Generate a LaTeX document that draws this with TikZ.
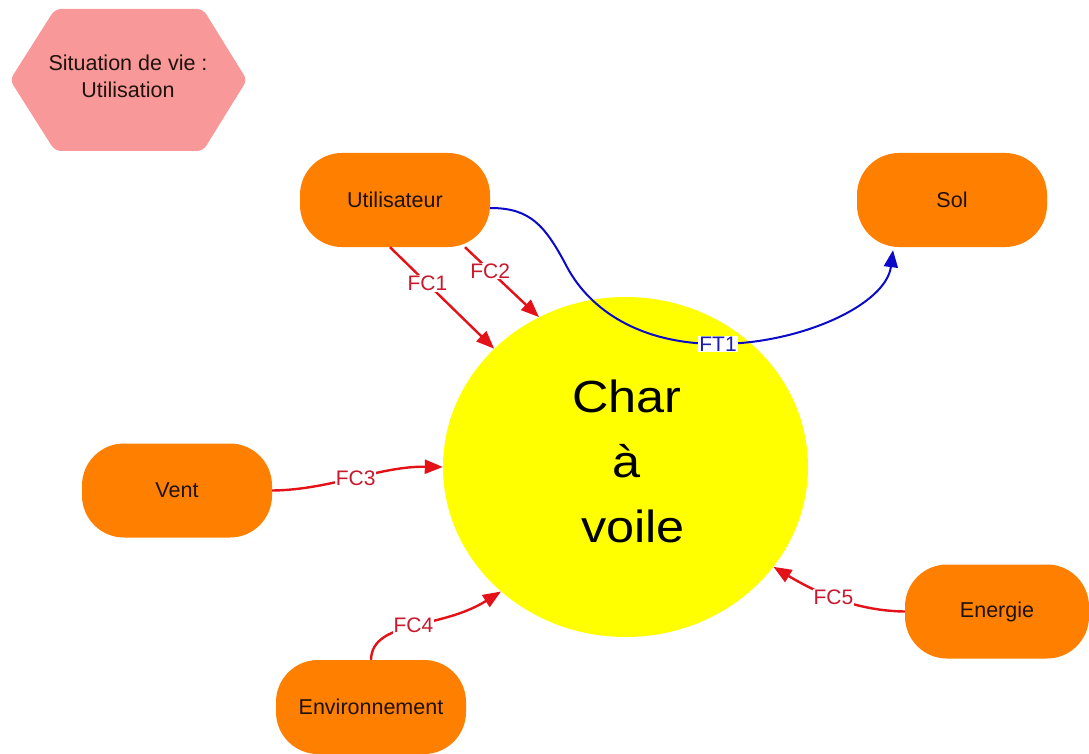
\documentclass[tikz,border=0pt]{standalone}
\usepackage{fontspec}
\setmainfont{Liberation Sans}
\newfontfamily\bigfont[FakeStretch=1.12]{Liberation Sans}
\usetikzlibrary{arrows.meta,shapes.geometric,calc}
\definecolor{orangeN}{RGB}{255,128,0}
\definecolor{pinkH}{RGB}{249,152,152}
\definecolor{yellowC}{RGB}{255,255,0}
\definecolor{redA}{RGB}{228,18,24}
\definecolor{redT}{RGB}{200,25,45}
\definecolor{blueA}{RGB}{10,10,200}
\definecolor{blueT}{RGB}{30,30,170}
\definecolor{txt}{RGB}{30,18,12}
\begin{document}
\begin{tikzpicture}[x=1pt,y=-1pt,
  actor/.style={rectangle, rounded corners=42pt, fill=orangeN, minimum width=190pt,
    minimum height=94pt, inner sep=0pt, text=txt, font=\fontsize{21.5}{25}\selectfont},
  fc/.style={draw=redA, line width=2.4pt, -{Triangle[length=18pt,width=14pt]}},
  ft/.style={draw=blueA, line width=2pt, -{Triangle[length=17pt,width=14pt]}},
  fclab/.style={fill=white, text=redT, inner sep=1pt, font=\fontsize{21}{24}\selectfont},
  ftlab/.style={fill=white, text=blueT, inner sep=1pt, font=\fontsize{21}{24}\selectfont}
]
\useasboundingbox (0,0) rectangle (1089,754);
\fill[white] (0,0) rectangle (1089,754);

% situation hexagon
\fill[pinkH, rounded corners=6pt] (10,80) -- (55,9) -- (203,9) -- (247,80) -- (203,151) -- (55,151) -- cycle;
\node[align=center, text=txt, font=\fontsize{21.5}{27}\selectfont] (hex) at (128,76) {Situation de vie :\\Utilisation};

% central ellipse
\node[ellipse, fill=yellowC, minimum width=365pt, minimum height=340pt, inner sep=0pt] (c) at (625.5,467) {};
\node[align=center, text=black, font=\bigfont\fontsize{45}{65}\selectfont] (ct) at (627,461) {Char\\à\\\hspace*{12pt}voile};

% actors
\node[actor] (u) at (395,200) {Utilisateur};
\node[actor] (s) at (952,200) {Sol};
\node[actor] (v) at (177,490.5) {Vent};
\node[actor] (e) at (371,707) {Environnement};
\node[actor, minimum width=184pt] (en) at (997,611.5) {Energie};

% connectors
\draw[fc] ($(u.south)+(-5,0)$) -- node[fclab, pos=0.36] {FC1} (c.138);
\draw[fc] ($(u.south)+(70,0)$) -- node[fclab, pos=0.34] {FC2} (c.120);

\coordinate (ftend) at ($(s.south)+(-59,3)$);
\draw[ft] ($(u.east)+(0,8)$) .. controls (530,208) and (545,225) .. (567,267)
  .. controls (590,310) and (640,344) .. (718,344) node[ftlab] {FT1}
  .. controls (800,344) and (886,305) .. (ftend);

\draw[fc] (v.east) .. controls (330,490) and (380,466) .. (c.180) node[fclab, pos=0.5] {FC3};
\draw[fc] (e.north) .. controls (372,620) and (440,630) .. (c.225) node[fclab, pos=0.5] {FC4};
\draw[fc] (en.west) .. controls (860,611) and (820,595) .. (c.-34) node[fclab, pos=0.55] {FC5};
\end{tikzpicture}
\end{document}
